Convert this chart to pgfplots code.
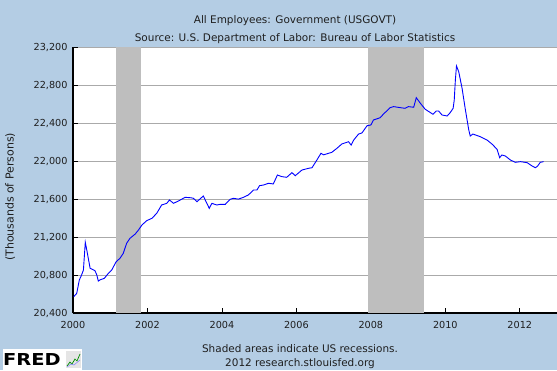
\documentclass[border=0pt]{standalone}
\usepackage{fontspec}
\setmainfont{DejaVu Sans}
\usepackage{pgfplots}
\pgfplotsset{compat=1.18}
\definecolor{fredbg}{RGB}{180,205,228}
\definecolor{recgray}{RGB}{190,190,190}
\definecolor{gridgray}{RGB}{170,170,170}
\definecolor{txt}{RGB}{30,30,30}
\begin{document}
\begin{tikzpicture}[x=1bp,y=1bp,text=txt]
\fill[fredbg] (0,0) rectangle (557,370);
\begin{axis}[
  at={(73bp,57bp)}, anchor=south west,
  scale only axis, width=484bp, height=265.7bp,
  axis background/.style={fill=white},
  xmin=2000, xmax=2013, ymin=20400, ymax=23200,
  xtick={2000,2002,...,2012},
  ytick={20400,20800,...,23200},
  scaled y ticks=false, scaled x ticks=false,
  axis x line*=bottom, axis y line*=left,
  axis line style={-, black, line width=1.2bp},
  tick align=inside, major tick length=5bp,
  tick style={black, line width=0.8bp},
  ymajorgrids, grid style={gridgray, line width=0.9bp},
  /pgf/number format/assume math mode=true,
  tick label style={font=\fontsize{9.7}{11}\selectfont, text=txt},
  xticklabel style={/pgf/number format/.cd, fixed, precision=0, 1000 sep=, /tikz/.cd, yshift=-4.5bp},
  yticklabel style={/pgf/number format/.cd, fixed, precision=0, 1000 sep={,}, /tikz/.cd, xshift=-2bp},
  ylabel={(Thousands of Persons)},
  ylabel style={at={(axis description cs:-0.130,0.437)}, anchor=center, font=\fontsize{11}{12}\selectfont, text=txt},
  title={All Employees: Government (USGOVT)\\Source: U.S. Department of Labor: Bureau of Labor Statistics},
  title style={at={(axis description cs:0.4587,1.0445)}, anchor=center, align=center, font=\fontsize{10.5}{18}\selectfont, text=txt},
]
\addplot[fill=recgray, draw=none] coordinates {(2001.167,20400) (2001.167,23200) (2001.833,23200) (2001.833,20400)} -- cycle;
\addplot[fill=recgray, draw=none] coordinates {(2007.917,20400) (2007.917,23200) (2009.417,23200) (2009.417,20400)} -- cycle;
\addplot[blue, line width=0.9bp, mark=none] coordinates {
(2000.02,20572) (2000.10,20607) (2000.17,20748) (2000.23,20800) (2000.28,20853)
(2000.33,21145) (2000.37,21064) (2000.46,20871) (2000.59,20846) (2000.64,20800)
(2000.68,20737) (2000.73,20750) (2000.84,20765) (2000.95,20818) (2001.04,20853)
(2001.16,20941) (2001.26,20976) (2001.35,21029) (2001.44,21134) (2001.53,21187)
(2001.67,21232) (2001.76,21275) (2001.85,21327) (2001.98,21373) (2002.12,21398)
(2002.25,21451) (2002.38,21538) (2002.52,21556) (2002.59,21591) (2002.70,21556)
(2002.83,21580) (2003.01,21619) (2003.15,21615) (2003.23,21610) (2003.33,21573)
(2003.50,21633) (2003.66,21503) (2003.73,21556) (2003.86,21538) (2003.95,21545)
(2004.09,21545) (2004.22,21598) (2004.31,21609) (2004.44,21600) (2004.58,21619)
(2004.71,21644) (2004.85,21696) (2004.94,21696) (2005.01,21742) (2005.12,21749)
(2005.25,21767) (2005.38,21760) (2005.49,21854) (2005.61,21837) (2005.74,21830)
(2005.88,21879) (2005.97,21847) (2006.15,21907) (2006.33,21925) (2006.42,21931)
(2006.55,22012) (2006.66,22083) (2006.73,22067) (2006.95,22093) (2007.09,22136)
(2007.22,22181) (2007.40,22205) (2007.47,22170) (2007.54,22223) (2007.67,22286)
(2007.76,22297) (2007.90,22374) (2008.00,22381) (2008.07,22434) (2008.25,22458)
(2008.34,22497) (2008.52,22564) (2008.61,22575) (2008.79,22564) (2008.92,22557)
(2009.01,22575) (2009.15,22568) (2009.22,22669) (2009.33,22610) (2009.46,22547)
(2009.67,22494) (2009.76,22529) (2009.82,22529) (2009.91,22487) (2010.05,22476)
(2010.13,22511) (2010.21,22557) (2010.24,22645) (2010.27,22856) (2010.30,23003)
(2010.36,22943) (2010.45,22768) (2010.54,22539) (2010.63,22329) (2010.67,22265)
(2010.74,22286) (2010.94,22258) (2011.12,22223) (2011.26,22178) (2011.39,22125)
(2011.46,22037) (2011.52,22065) (2011.61,22055) (2011.75,22012) (2011.88,21988)
(2012.02,21995) (2012.20,21984) (2012.33,21949) (2012.42,21931) (2012.48,21949)
(2012.55,21988) (2012.64,21995)
};
\end{axis}
\node[align=center, font=\fontsize{10.5}{14}\selectfont] at (300,13.8) {Shaded areas indicate US recessions.\\2012 research.stlouisfed.org};
\fill[white] (3,0) rectangle (82,21);
\node[anchor=west, inner sep=0, xscale=1.18, font=\bfseries\fontsize{16.5}{17}\selectfont, text=black] at (3,10) {FRED};
\fill[gray!20] (66,2) rectangle (81,19);
\draw[green!55!black, line width=0.7bp] (67,4) -- (70,8) -- (72,6) -- (75,11) -- (77,9) -- (80,16);
\draw[blue!50, line width=0.5bp] (67,3) -- (71,6) -- (74,5) -- (80,10);
\pgfresetboundingbox
\path (0,0) rectangle (557,370);
\end{tikzpicture}
\end{document}
